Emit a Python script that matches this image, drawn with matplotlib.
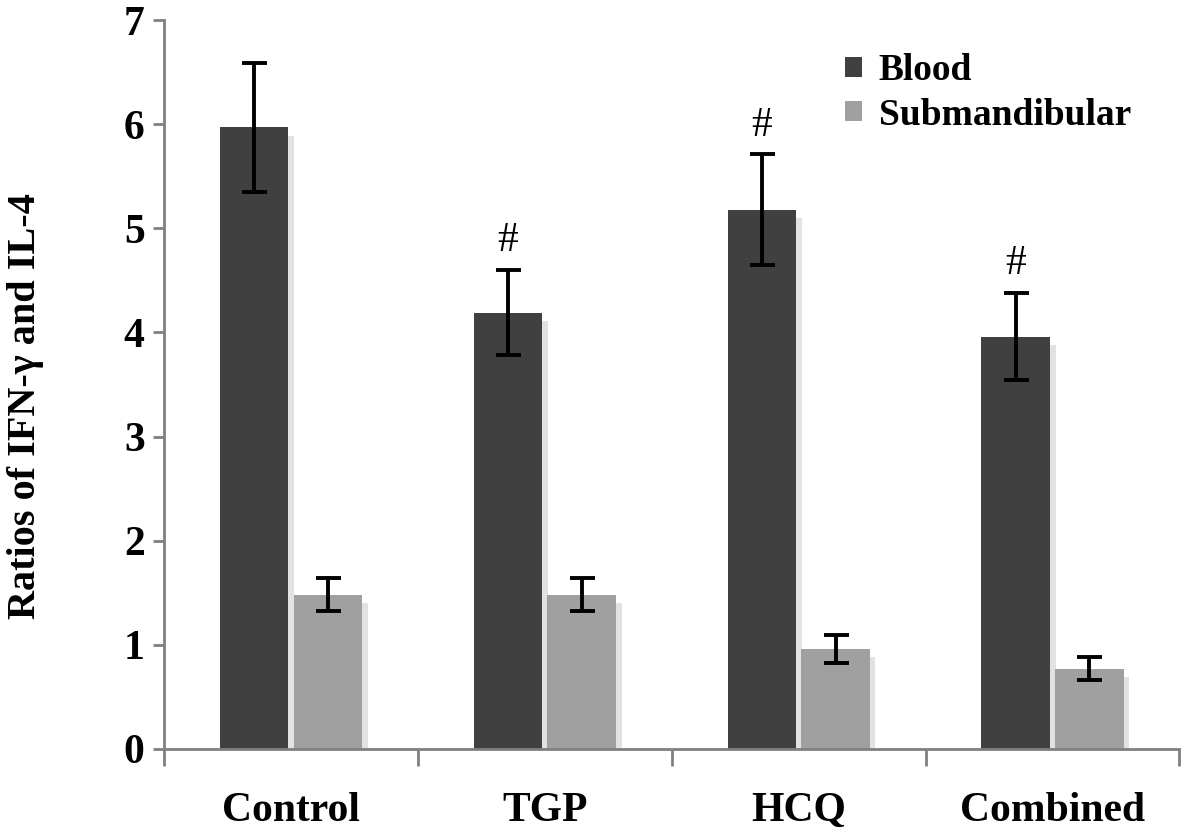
import matplotlib.pyplot as plt
import numpy as np

plt.rcParams['font.family'] = ['Liberation Serif', 'DejaVu Serif']
plt.rcParams['font.weight'] = 'bold'

groups = ['Control', 'TGP', 'HCQ', 'Combined']
blood = [5.97, 4.19, 5.18, 3.96]
blood_err = [0.62, 0.41, 0.53, 0.42]
submand = [1.48, 1.48, 0.96, 0.77]
submand_err = [0.16, 0.16, 0.13, 0.11]
marks = ['', '#', '#', '#']

dark = '#404040'
light = '#a0a0a0'
shadow = '#e2e2e2'

fig = plt.figure(figsize=(11.89, 8.34), dpi=100)
ax = fig.add_axes([0.138, 0.102, 0.854, 0.874])

x = np.arange(len(groups))
w = 0.27
off = 0.145

# faint drop shadow on the right side of every bar
ax.bar(x - off + 0.022, np.array(blood) - 0.08, w, color=shadow, zorder=1)
ax.bar(x + off + 0.022, np.array(submand) - 0.08, w, color=shadow, zorder=1)

ax.bar(x - off, blood, w, color=dark, label='Blood', zorder=2)
ax.bar(x + off, submand, w, color=light, label='Submandibular', zorder=2)

ax.errorbar(x - off, blood, yerr=blood_err, fmt='none', ecolor='black',
            elinewidth=2.8, capsize=9, capthick=2.8, zorder=3)
ax.errorbar(x + off, submand, yerr=submand_err, fmt='none', ecolor='black',
            elinewidth=2.8, capsize=9, capthick=2.8, zorder=3)

for xi, v, e, m in zip(x, blood, blood_err, marks):
    if m:
        ax.annotate(m, (xi - off, v + e), xytext=(0, 7), textcoords='offset points',
                    ha='center', va='bottom', fontsize=30, fontweight='normal')

ax.set_xlim(-0.5, len(groups) - 0.5)
ax.set_ylim(0, 7)
ax.set_yticks(range(0, 8))
ax.set_xticks(np.arange(-0.5, len(groups), 1.0))
ax.set_xticklabels([])
ax.set_xticks(x, minor=True)
ax.set_xticklabels(groups, minor=True, fontsize=30, fontweight='bold')
ax.tick_params(axis='x', which='minor', length=0, pad=31)
ax.tick_params(axis='x', which='major', length=12, width=2, color='#808080', direction='out')
ax.tick_params(axis='y', length=8, width=2, color='#808080', labelsize=30, pad=6)
for t in ax.get_yticklabels():
    t.set_fontweight('bold')

for s in ['top', 'right']:
    ax.spines[s].set_visible(False)
for s in ['left', 'bottom']:
    ax.spines[s].set_color('#808080')
    ax.spines[s].set_linewidth(2)

ax.set_ylabel('Ratios of IFN-γ and IL-4', fontsize=29, fontweight='bold')
ax.yaxis.set_label_coords(-0.118, 0.47)

ax.legend(loc='upper left', bbox_to_anchor=(0.652, 0.98), frameon=False,
          fontsize=27, handlelength=0.45, handleheight=0.45, handletextpad=0.45,
          labelspacing=0.25, borderpad=0)

plt.savefig('out.png', dpi=100)
